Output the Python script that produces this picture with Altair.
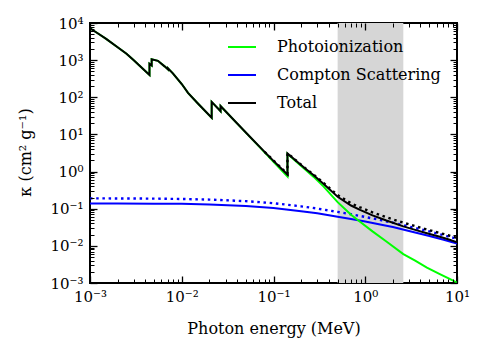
import altair as alt
import pandas as pd

# ---------------- data ----------------
photo_energy = [0.001, 0.0012, 0.0015, 0.002, 0.0025, 0.003, 0.0035, 0.004, 0.00445, 0.00445,
                0.0047, 0.0047, 0.0055, 0.0065, 0.0071, 0.0071, 0.008, 0.01, 0.0117, 0.015,
                0.0212, 0.0212, 0.0265, 0.0265, 0.03, 0.04, 0.055, 0.08, 0.1, 0.142,
                0.142, 0.18, 0.22, 0.272, 0.35, 0.5, 0.7, 0.877, 1.2, 1.7,
                2.6, 3.5, 4.7, 6.5, 8.0, 10.0]
photo_kappa = [7200, 5370, 3750, 2230, 1480, 990, 696, 513, 400, 800,
               720, 1050, 960, 680, 560, 600, 440, 228, 132, 68,
               28, 75, 42, 58, 42, 19.9, 8.7, 3.28, 1.84, 0.74,
               3.0, 1.78, 1.15, 0.73, 0.40, 0.15, 0.069, 0.0447, 0.0246, 0.0131,
               0.006, 0.004, 0.0026, 0.00173, 0.00135, 0.00103]
total_kappa = [7200, 5370, 3750, 2230, 1480, 990, 696, 513, 400, 800,
               720, 1050, 960, 680, 560, 600, 440, 228, 132, 68,
               28.1, 75, 42, 58, 42, 20.0, 8.8, 3.39, 1.94, 0.83,
               3.09, 1.87, 1.23, 0.81, 0.47, 0.21, 0.122, 0.093, 0.066, 0.048,
               0.0335, 0.027, 0.0218, 0.0175, 0.0151, 0.0125]

compton_energy = [0.001, 0.002, 0.005, 0.01, 0.02, 0.05, 0.1, 0.2, 0.3, 0.5,
                  0.7, 1.0, 1.5, 2.0, 3.0, 5.0, 7.0, 10.0]
compton_kappa = [0.139, 0.139, 0.137, 0.135, 0.130, 0.118, 0.104, 0.086, 0.075, 0.061,
                 0.053, 0.045, 0.037, 0.032, 0.025, 0.0185, 0.0148, 0.0115]
compton_dotted_kappa = [0.19, 0.189, 0.187, 0.183, 0.176, 0.160, 0.141, 0.116, 0.101, 0.082,
                        0.071, 0.060, 0.049, 0.042, 0.033, 0.0245, 0.0196, 0.0155]

total_dotted_energy = [0.08, 0.1, 0.142, 0.142, 0.18, 0.22, 0.272, 0.35, 0.5, 0.7,
                       0.877, 1.2, 1.7, 2.6, 3.5, 4.7, 6.5, 8.0, 10.0]
total_dotted_kappa = [3.41, 1.98, 0.87, 3.13, 1.90, 1.26, 0.835, 0.50, 0.232, 0.14,
                      0.109, 0.080, 0.059, 0.042, 0.034, 0.0276, 0.0222, 0.0193, 0.0165]

band_start = [0.5]
band_end = [2.6]

legend_labels = ["Photoionization", "Compton Scattering", "Total"]
legend_colors = ["#00ff00", "#0000ff", "#000000"]

x_major = [1e-3, 1e-2, 1e-1, 1.0, 10.0]
x_tick_labels = ["10⁻³", "10⁻²", "10⁻¹", "10⁰", "10¹"]
y_major = [1e-3, 1e-2, 1e-1, 1.0, 10.0, 100.0, 1000.0, 10000.0]
y_tick_labels = ["10⁻³", "10⁻²", "10⁻¹", "10⁰", "10¹", "10²", "10³", "10⁴"]
x_minor = [k * 10.0 ** n for n in range(-3, 1) for k in range(2, 10)]
y_minor = [k * 10.0 ** n for n in range(-3, 4) for k in range(2, 10)]

FONT = "DejaVu Serif"


def frame(energy, kappa, series):
    return pd.DataFrame({"E": energy, "k": kappa, "series": series, "i": list(range(len(energy)))})


df_photo = frame(photo_energy, photo_kappa, "Photoionization")
df_total = frame(photo_energy, total_kappa, "Total")
df_compton = frame(compton_energy, compton_kappa, "Compton Scattering")
df_compton_dot = frame(compton_energy, compton_dotted_kappa, "Compton dotted")
df_total_dot = frame(total_dotted_energy, total_dotted_kappa, "Total dotted")
df_band = pd.DataFrame({"E0": band_start, "E1": band_end})

x_scale = alt.Scale(type="log", domain=[1e-3, 10], nice=False)
y_scale = alt.Scale(type="log", domain=[1e-3, 1e4], nice=False)
color_scale = alt.Scale(domain=legend_labels, range=legend_colors)


def expr_for(labels, first_exp):
    arr = "[" + ",".join("'" + s + "'" for s in labels) + "]"
    return f"{arr}[round(log(datum.value)/LN10) - ({first_exp})]"


main_x = alt.Axis(orient="bottom", values=x_major, labelExpr=expr_for(x_tick_labels, -3),
                  ticks=False, domain=False, grid=False, labelFont=FONT, labelFontSize=15,
                  labelColor="black", labelPadding=6, title="Photon energy (MeV)",
                  titleFont=FONT, titleFontSize=16, titleFontWeight="normal", titleColor="black",
                  titleY=37, titleBaseline="top", labelFlush=False, labelOverlap=False)
main_y = alt.Axis(orient="left", values=y_major, labelExpr=expr_for(y_tick_labels, -3),
                  ticks=False, domain=False, grid=False, labelFont=FONT, labelFontSize=15,
                  labelColor="black", labelPadding=7, title="κ (cm² g⁻¹)",
                  titleFont=FONT, titleFontSize=16, titleFontWeight="normal", titleColor="black",
                  titleX=-57, titleY=129, titleAngle=270, titleBaseline="bottom",
                  labelFlush=False, labelOverlap=False)


def tick_axis(orient, values, size, width):
    return alt.Axis(orient=orient, values=values, labels=False, domain=False, grid=False,
                    ticks=True, tickSize=size, offset=-size, tickWidth=width,
                    tickColor="black", title=None, zindex=2)


def line_layer(df, xaxis, yaxis, color=None, dash=None, width=2.0):
    mark_kw = dict(strokeWidth=width, clip=True)
    if dash is not None:
        mark_kw["strokeDash"] = dash
    enc = dict(
        x=alt.X("E:Q", scale=x_scale, axis=xaxis),
        y=alt.Y("k:Q", scale=y_scale, axis=yaxis),
        order=alt.Order("i:Q"),
    )
    if color is None:
        enc["color"] = alt.Color(
            "series:N", scale=color_scale,
            legend=alt.Legend(orient="none", legendX=137, legendY=9, title=None,
                              direction="vertical", symbolType="stroke", symbolSize=784,
                              symbolStrokeWidth=2, labelFont=FONT, labelFontSize=16,
                              labelColor="black", labelOffset=20, rowPadding=5, padding=0,
                              offset=0, labelLimit=300))
    else:
        enc["color"] = alt.value(color)
    return alt.Chart(df).mark_line(**mark_kw).encode(**enc)


band = alt.Chart(df_band).mark_rect(color="#d6d6d6").encode(
    x=alt.X("E0:Q", scale=x_scale, axis=None),
    x2="E1:Q",
)

blue_dot = line_layer(df_compton_dot, main_x, main_y, color="#0000ff", dash=[2.5, 3.7], width=2.4)
blue = line_layer(df_compton, tick_axis("bottom", x_major, 7, 1.3), tick_axis("left", y_major, 7, 1.3))
green = line_layer(df_photo, tick_axis("bottom", x_minor, 4, 1), tick_axis("left", y_minor, 4, 1))
black_dot = line_layer(df_total_dot, tick_axis("top", x_major, 7, 1.3), tick_axis("right", y_major, 7, 1.3),
                       color="#000000", dash=[2.5, 3.7], width=2.4)
black = line_layer(df_total, tick_axis("top", x_minor, 4, 1), tick_axis("right", y_minor, 4, 1))

chart = alt.layer(band, blue_dot, blue, green, black_dot, black).resolve_axis(
    x="independent", y="independent"
).properties(
    width=367, height=260,
    autosize=alt.AutoSizeParams(type="none"),
    padding={"left": 82, "top": 15, "right": 20, "bottom": 63},
).configure_view(stroke="black", strokeWidth=2)

chart.save("out.html", embed_options={"renderer": "svg", "actions": False})
